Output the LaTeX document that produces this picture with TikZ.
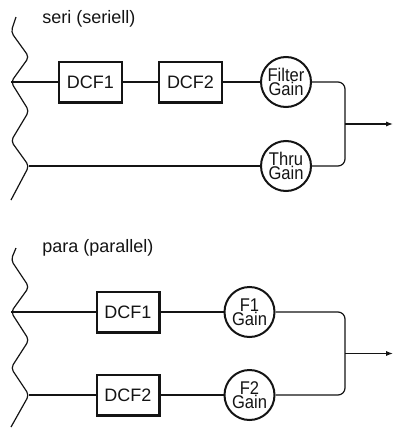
\documentclass[tikz,border=0pt]{standalone}
\usepackage{fontspec}
\setmainfont{Liberation Sans}
\newfontfamily\gainfont[FakeStretch=0.9]{Liberation Sans}
\definecolor{WireBlack}{RGB}{20, 20, 20}
\usetikzlibrary{arrows.meta}

\begin{document}
\begin{tikzpicture}[x=0.5pt, y=-0.5pt,
  every node/.style={font=\fontsize{9}{10}\selectfont, text=WireBlack},
  title/.style={anchor=west, inner sep=0pt},
  blk/.style={draw=WireBlack, line width=1.2pt, minimum width=31.3pt, minimum height=20.3pt, inner sep=0pt},
  gain/.style={draw=WireBlack, circle, line width=1pt, minimum size=25pt, inner sep=0pt, align=center,
    font=\gainfont\fontsize{9.2}{6.8}\selectfont},
  wire/.style={draw=WireBlack, line width=0.6pt},
  wave/.style={wire, rounded corners=2pt},
  merge/.style={wire, rounded corners=3.5pt},
  outarrow/.style={wire, -{Latex[length=3.5pt, width=2.6pt]}}]
\useasboundingbox (0,0) rectangle (393,428);

% seri
\node[title] (tseri) at (42,19) {seri (seriell)};
\draw[wave] (16,17) -- (11,32) -- (29,57) -- (11,82) coordinate (sIn) -- (29,111) -- (11,141)
  -- (29,166) coordinate (sThru) -- (11,200);
\node[blk] (sd1) at (90.5,82) {DCF1};
\node[blk] (sd2) at (190.5,82) {DCF2};
\node[gain] (sfg) at (286,82) {Filter\\Gain};
\node[gain] (stg) at (286,166) {Thru\\Gain};
\coordinate (sj) at (345,124);
\coordinate (sout) at (393,124);
\draw[wire] (sIn) -- (sd1) -- (sd2) -- (sfg);
\draw[wire] (sThru) -- (stg);
\draw[merge] (sfg.east) -| (sj) |- (stg.east);
\draw[outarrow] (sj) -- (sout);

% para
\node[title] (tpara) at (42,248) {para (parallel)};
\draw[wave] (16,248) -- (11,260) -- (29,287) -- (11,312) coordinate (pIn1) -- (29,340) -- (11,368)
  -- (29,395) coordinate (pIn2) -- (11,427);
\node[blk] (pd1) at (128,312) {DCF1};
\node[blk] (pd2) at (128,395) {DCF2};
\node[gain] (pg1) at (249.5,312) {F1\\Gain};
\node[gain] (pg2) at (249.5,395) {F2\\Gain};
\coordinate (pj) at (345,353.5);
\coordinate (pout) at (393,353.5);
\draw[wire] (pIn1) -- (pd1) -- (pg1);
\draw[wire] (pIn2) -- (pd2) -- (pg2);
\draw[merge] (pg1.east) -| (pj) |- (pg2.east);
\draw[outarrow] (pj) -- (pout);
\end{tikzpicture}
\end{document}
